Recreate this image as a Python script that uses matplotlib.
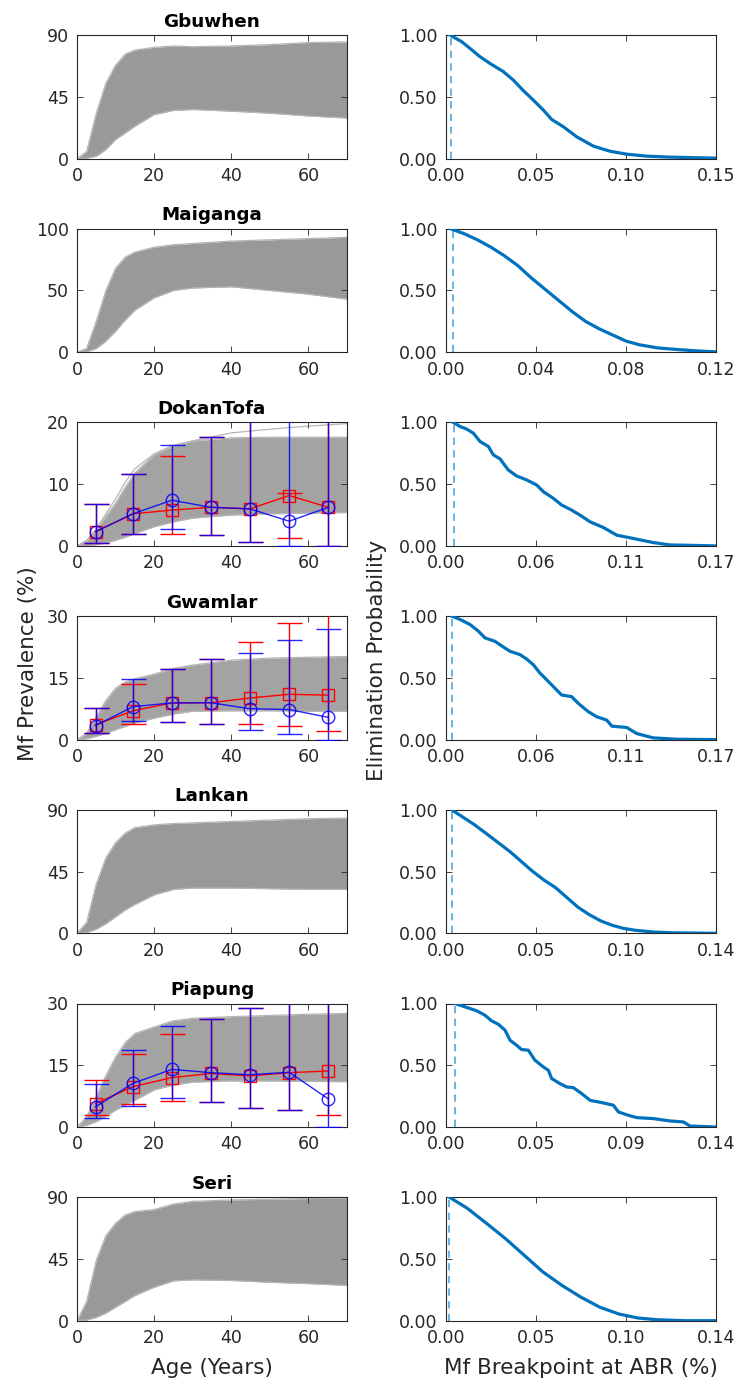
import numpy as np
import matplotlib
matplotlib.use('Agg')
import matplotlib.pyplot as plt

# ---------------- data ----------------
sites = ['Gbuwhen', 'Maiganga', 'DokanTofa', 'Gwamlar', 'Lankan', 'Piapung', 'Seri']
age_grid = [0, 2.5, 5, 7.5, 10, 12.5, 15, 20, 25, 30, 40, 50, 60, 70]

gbuwhen_upper = [0, 5, 33, 55, 68, 76, 79, 81, 82, 81.5, 82, 83, 84.5, 85]
gbuwhen_lower = [0, 0.2, 1.7, 6.5, 13.8, 18.6, 23.5, 32, 35, 35.7, 34.5, 33, 31, 29.5]
maiganga_upper = [0, 3, 25, 50, 68, 77, 81, 85, 87, 88, 90, 91, 92, 93]
maiganga_lower = [0, 0.3, 3, 9, 17, 26, 34, 44, 50, 52, 53, 50, 47, 43]
dokan_upper = [0, 0.8, 2.6, 4.8, 6.9, 9.5, 11.8, 14.8, 16.2, 17.0, 17.5, 17.6, 17.6, 17.6]
dokan_top_curve = [0, 0.9, 2.8, 5.2, 7.6, 10.3, 12.5, 14.9, 16.3, 17.0, 18.3, 18.9, 19.4, 19.8]
dokan_lower = [0, 0.05, 0.2, 0.5, 0.9, 1.4, 2.0, 3.1, 3.9, 4.5, 5.0, 5.2, 5.3, 5.4]
gwamlar_upper = [0, 1.5, 5.6, 9.5, 12.5, 14.0, 14.8, 15.9, 17.3, 18.1, 19.3, 19.8, 20.0, 20.2]
gwamlar_lower = [0, 0.2, 0.8, 1.5, 2.4, 3.2, 4.0, 5.2, 6.2, 6.9, 7.0, 7.0, 6.9, 6.9]
lankan_upper = [0, 8, 36, 55, 66, 73, 77, 79, 80, 80.5, 81.5, 82.5, 83.5, 84]
lankan_lower = [0, 0.5, 3, 7, 12, 17, 21, 28, 32, 33, 33, 32.5, 32, 32]
piapung_upper = [0, 2.5, 7.4, 12.5, 17, 20.5, 22.7, 24.3, 25.8, 26.4, 26.8, 27.1, 27.4, 27.6]
piapung_lower = [0, 0.4, 1.3, 2.6, 4.1, 5.3, 6.5, 9.0, 10.2, 10.9, 11.2, 11.2, 11.1, 11.0]
seri_upper = [0, 14, 44, 62, 71, 77, 79.5, 81, 85, 87, 88, 88.5, 89, 89.5]
seri_lower = [0, 0.5, 2.4, 5.5, 9.8, 14, 18.3, 24.4, 29, 29.8, 29.3, 28, 27, 25.7]

band_upper = [gbuwhen_upper, maiganga_upper, dokan_upper, gwamlar_upper,
              lankan_upper, piapung_upper, seri_upper]
band_lower = [gbuwhen_lower, maiganga_lower, dokan_lower, gwamlar_lower,
              lankan_lower, piapung_lower, seri_lower]

left_ylim = [90, 100, 20, 30, 90, 30, 90]
left_yticks = [[0, 45, 90], [0, 50, 100], [0, 10, 20], [0, 15, 30],
               [0, 45, 90], [0, 15, 30], [0, 45, 90]]
age_ticks = [0, 20, 40, 60]

# observed / fitted age-group prevalences
obs_age = [4.8, 14.5, 24.6, 34.7, 44.8, 55.0, 65.2]

dokan_blue = [2.3, 5.2, 7.4, 6.25, 6.0, 4.0, 6.25]
dokan_blue_lo = [0.55, 1.95, 2.8, 1.7, 0.65, 0, 0]
dokan_blue_hi = [6.85, 11.7, 16.4, 17.6, 25, 25, 25]
dokan_red = [2.3, 5.2, 5.8, 6.25, 6.0, 8.15, 6.25]
dokan_red_lo = [0.55, 1.95, 2.0, 1.7, 0.65, 1.3, 0]
dokan_red_hi = [6.85, 11.7, 14.6, 17.6, 25, 8.5, 25]

gwamlar_blue = [3.4, 8.0, 8.9, 8.95, 7.5, 7.3, 5.4]
gwamlar_blue_lo = [1.6, 4.5, 4.3, 3.7, 2.3, 1.3, 0]
gwamlar_blue_hi = [7.7, 14.6, 17.2, 19.5, 21.0, 24.3, 26.9]
gwamlar_red = [3.6, 7.0, 8.9, 8.95, 10.1, 11.0, 10.8]
gwamlar_red_lo = [1.6, 3.9, 4.3, 3.7, 3.8, 3.3, 2.2]
gwamlar_red_hi = [7.7, 13.5, 17.2, 19.5, 23.8, 28.3, 35]

piapung_blue = [4.9, 10.6, 14.0, 13.2, 12.7, 13.3, 6.8]
piapung_blue_lo = [2.3, 5.1, 7.1, 6.1, 4.7, 4.1, 0]
piapung_blue_hi = [10.5, 18.7, 24.5, 26.3, 29.0, 35, 35]
piapung_red = [5.7, 9.8, 12.0, 13.0, 12.4, 13.2, 13.6]
piapung_red_lo = [2.9, 5.5, 6.3, 6.1, 4.7, 4.1, 2.8]
piapung_red_hi = [11.4, 17.7, 22.5, 26.3, 29.0, 35, 35]

obs_data = {
    'DokanTofa': (dokan_blue, dokan_blue_lo, dokan_blue_hi, dokan_red, dokan_red_lo, dokan_red_hi),
    'Gwamlar': (gwamlar_blue, gwamlar_blue_lo, gwamlar_blue_hi, gwamlar_red, gwamlar_red_lo, gwamlar_red_hi),
    'Piapung': (piapung_blue, piapung_blue_lo, piapung_blue_hi, piapung_red, piapung_red_lo, piapung_red_hi),
}

# elimination probability curves (Mf breakpoint %, probability)
gbuwhen_bp = [0.0022, 0.0087, 0.0133, 0.0189, 0.0244, 0.0319, 0.0374, 0.0430, 0.0485, 0.0541,
              0.0587, 0.0652, 0.0726, 0.0819, 0.0911, 0.1004, 0.1115, 0.1244, 0.15]
gbuwhen_prob = [1.0, 0.946, 0.892, 0.824, 0.770, 0.703, 0.635, 0.549, 0.473, 0.392,
                0.316, 0.257, 0.176, 0.100, 0.059, 0.035, 0.019, 0.011, 0.003]
maiganga_bp = [0.002, 0.008, 0.014, 0.020, 0.026, 0.032, 0.038, 0.044, 0.050, 0.056,
               0.062, 0.068, 0.074, 0.080, 0.086, 0.094, 0.104, 0.112, 0.12]
maiganga_prob = [1.0, 0.96, 0.91, 0.85, 0.78, 0.70, 0.60, 0.51, 0.42, 0.33,
                 0.25, 0.19, 0.14, 0.09, 0.06, 0.035, 0.02, 0.01, 0.003]
dokan_bp = [0.0046, 0.0088, 0.013, 0.0172, 0.0214, 0.0267, 0.0298, 0.034, 0.0392, 0.0445,
            0.0508, 0.0571, 0.0613, 0.0676, 0.0728, 0.0791, 0.0844, 0.0907, 0.0991, 0.1075,
            0.118, 0.1305, 0.141, 0.17]
dokan_prob = [1.0, 0.967, 0.946, 0.913, 0.846, 0.805, 0.737, 0.705, 0.615, 0.566,
              0.534, 0.493, 0.439, 0.385, 0.331, 0.290, 0.249, 0.195, 0.149, 0.087,
              0.060, 0.027, 0.008, 0.0]
gwamlar_bp = [0.0036, 0.0088, 0.0151, 0.0204, 0.0246, 0.0308, 0.0361, 0.0403, 0.0466, 0.0508,
              0.055, 0.0592, 0.0634, 0.0676, 0.0728, 0.0791, 0.0833, 0.0896, 0.0949, 0.1012,
              0.1044, 0.1138, 0.1201, 0.1305, 0.1452, 0.17]
gwamlar_prob = [1.0, 0.973, 0.932, 0.878, 0.823, 0.796, 0.750, 0.715, 0.688, 0.652,
                0.606, 0.538, 0.484, 0.429, 0.361, 0.348, 0.293, 0.226, 0.185, 0.158,
                0.109, 0.098, 0.049, 0.014, 0.003, 0.0]
lankan_bp = [0.003, 0.008, 0.015, 0.022, 0.028, 0.034, 0.040, 0.046, 0.052, 0.058,
             0.064, 0.070, 0.076, 0.082, 0.088, 0.094, 0.100, 0.110, 0.120, 0.143]
lankan_prob = [1.0, 0.95, 0.88, 0.80, 0.73, 0.66, 0.58, 0.50, 0.43, 0.37,
               0.29, 0.21, 0.15, 0.10, 0.065, 0.04, 0.025, 0.01, 0.004, 0.0]
piapung_bp = [0.0047, 0.0107, 0.0159, 0.0202, 0.0237, 0.0271, 0.0306, 0.0332, 0.0366, 0.0392,
              0.0427, 0.0461, 0.0505, 0.0531, 0.0548, 0.0591, 0.0626, 0.066, 0.0704, 0.0747,
              0.0816, 0.0868, 0.0894, 0.0945, 0.0989, 0.1075, 0.1161, 0.1231, 0.1265, 0.14]
piapung_prob = [1.0, 0.968, 0.941, 0.905, 0.859, 0.832, 0.784, 0.703, 0.662, 0.627,
                0.622, 0.541, 0.486, 0.459, 0.392, 0.351, 0.324, 0.319, 0.270, 0.216,
                0.195, 0.176, 0.122, 0.095, 0.076, 0.068, 0.049, 0.041, 0.008, 0.0]
seri_bp = [0.0018, 0.0113, 0.0213, 0.0314, 0.0414, 0.0514, 0.0615, 0.0715, 0.0815, 0.0916,
           0.1016, 0.1116, 0.1267, 0.143]
seri_prob = [1.0, 0.91, 0.79, 0.666, 0.53, 0.394, 0.285, 0.19, 0.109, 0.054,
             0.022, 0.008, 0.0, 0.0]

elim_bp = [gbuwhen_bp, maiganga_bp, dokan_bp, gwamlar_bp, lankan_bp, piapung_bp, seri_bp]
elim_prob = [gbuwhen_prob, maiganga_prob, dokan_prob, gwamlar_prob, lankan_prob, piapung_prob, seri_prob]
threshold_abr = [0.0026, 0.003, 0.005, 0.0038, 0.003, 0.0047, 0.0018]
right_xmax = [0.15, 0.12, 0.17, 0.17, 0.143, 0.14, 0.143]
right_xticklabels = [['0.00', '0.05', '0.10', '0.15'],
                     ['0.00', '0.04', '0.08', '0.12'],
                     ['0.00', '0.06', '0.11', '0.17'],
                     ['0.00', '0.06', '0.11', '0.17'],
                     ['0.00', '0.05', '0.10', '0.14'],
                     ['0.00', '0.05', '0.09', '0.14'],
                     ['0.00', '0.05', '0.10', '0.14']]
prob_ticks = [0, 0.5, 1.0]

# ---------------- style ----------------
plt.rcParams.update({
    'font.family': ['DejaVu Sans'],
    'font.size': 12.5,
    'axes.edgecolor': '#262626',
    'axes.linewidth': 0.8,
    'xtick.direction': 'in',
    'ytick.direction': 'in',
    'xtick.top': True,
    'ytick.right': True,
    'xtick.color': '#262626',
    'ytick.color': '#262626',
    'xtick.labelcolor': '#262626',
    'ytick.labelcolor': '#262626',
    'xtick.major.size': 4,
    'ytick.major.size': 4,
    'xtick.major.width': 0.6,
    'ytick.major.width': 0.6,
    'xtick.major.pad': 6,
    'ytick.major.pad': 6,
})

W, H = 736, 1387
fig = plt.figure(figsize=(W / 100, H / 100), dpi=100)

left_x, right_x, ax_w = 77, 446, 270
ax_h = 123.5
row_top0, row_step = 35, 193.7

blue = '#0000FF'
red = '#FF0000'
band_color = '#999999'
edge_color = '#b5b5b5'
curve_color = '#0072BD'
dash_color = '#5AAEE3'

for i, site in enumerate(sites):
    top = row_top0 + i * row_step
    bottom = 1 - (top + ax_h) / H
    axl = fig.add_axes([left_x / W, bottom, ax_w / W, ax_h / H])
    axr = fig.add_axes([right_x / W, bottom, ax_w / W, ax_h / H])

    # ---- left: prevalence curves ----
    has_obs = site in obs_data
    bc = '#a3a3a3' if has_obs else band_color
    axl.fill_between(age_grid, band_lower[i], band_upper[i], color=bc, lw=0, zorder=1)
    axl.plot(age_grid, band_upper[i], color=edge_color, lw=0.9, zorder=1.5)
    axl.plot(age_grid, band_lower[i], color=edge_color, lw=0.9, zorder=1.5)
    if site == 'DokanTofa':
        axl.plot(age_grid, dokan_top_curve, color=edge_color, lw=0.9, zorder=1.5)

    if has_obs:
        b, blo, bhi, r, rlo, rhi = obs_data[site]
        b = np.array(b); blo = np.array(blo); bhi = np.array(bhi)
        r = np.array(r); rlo = np.array(rlo); rhi = np.array(rhi)
        axl.errorbar(obs_age, r, yerr=[r - rlo, rhi - r], color=red, lw=1.0,
                     elinewidth=1.0, capsize=9, capthick=1.0, marker='s', ms=8,
                     mfc='none', mec=red, mew=1.0, zorder=3)
        axl.errorbar(obs_age, b, yerr=[b - blo, bhi - b], color=blue, lw=1.0,
                     elinewidth=1.0, capsize=9, capthick=1.0, marker='o', ms=9,
                     mfc='none', mec=blue, mew=1.0, zorder=4, alpha=0.85)

    axl.set_xlim(0, 70)
    axl.set_ylim(0, left_ylim[i])
    axl.set_xticks(age_ticks)
    axl.set_yticks(left_yticks[i])
    axl.set_title(site, fontsize=13.2, fontweight='bold', pad=6)

    # ---- right: elimination probability ----
    axr.plot(elim_bp[i], elim_prob[i], color=curve_color, lw=2.3, zorder=3)
    axr.plot([threshold_abr[i], threshold_abr[i]], [0, 1], color=dash_color,
             lw=1.3, ls=(0, (4, 3)), zorder=2)
    xmax = right_xmax[i]
    axr.set_xlim(0, xmax)
    axr.set_ylim(0, 1)
    axr.set_xticks(np.linspace(0, xmax, 4))
    axr.set_xticklabels(right_xticklabels[i])
    axr.set_yticks(prob_ticks)
    axr.set_yticklabels(['%.2f' % v for v in prob_ticks])

fig.text(28 / W, 1 - 664 / H, 'Mf Prevalence (%)', rotation=90, ha='center',
         va='center', fontsize=15.5, color='#262626')
fig.text(377 / W, 1 - 660 / H, 'Elimination Probability', rotation=90, ha='center',
         va='center', fontsize=15.5, color='#262626')
fig.text((left_x + ax_w / 2) / W, 1 - 1368 / H, 'Age (Years)', ha='center',
         va='center', fontsize=15.5, color='#262626')
fig.text((right_x + ax_w / 2) / W, 1 - 1368 / H, 'Mf Breakpoint at ABR (%)',
         ha='center', va='center', fontsize=15.5, color='#262626')

fig.savefig('out.png', dpi=100, facecolor='white')
